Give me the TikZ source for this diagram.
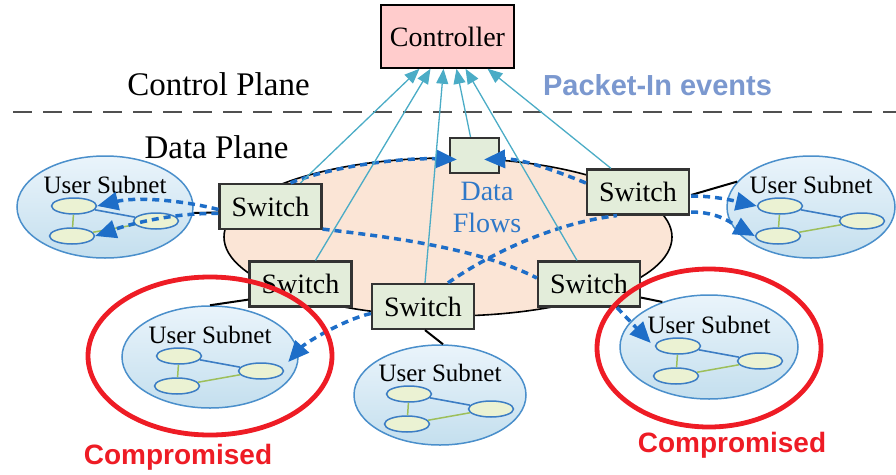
\documentclass[tikz,border=0pt]{standalone}
\usepackage{fontspec}
\setmainfont{Liberation Serif}
\setsansfont{Liberation Sans}
\usetikzlibrary{shapes.geometric,arrows.meta,calc}
\definecolor{ctrlpink}{HTML}{FFCCCC}
\definecolor{dpfill}{HTML}{FBE5D6}
\definecolor{swfill}{HTML}{E3EDDA}
\definecolor{swborder}{HTML}{333333}
\definecolor{flowblue}{HTML}{1E6EC8}
\definecolor{pktcyan}{HTML}{4BACC6}
\definecolor{pkttext}{HTML}{7B98CF}
\definecolor{dftext}{HTML}{2F78C8}
\definecolor{cred}{HTML}{EE1C25}
\definecolor{snborder}{HTML}{4A8FCB}
\definecolor{sntop}{HTML}{EAF4FB}
\definecolor{snbot}{HTML}{C4DFEE}
\definecolor{hostfill}{HTML}{EBF2D3}
\definecolor{hostblue}{HTML}{3C7DC4}
\definecolor{hostgreen}{HTML}{9DBF5A}
\definecolor{sepgray}{HTML}{505050}
\newcommand{\usersubnet}[5]{%
  \node[subnet, minimum width=#4, minimum height=#5] (#1) at (#2,#3) {};
  \node[font=\fontsize{25}{27}\selectfont, inner sep=0pt] (#1t) at ($(#1)+(0,-22)$) {User Subnet};
  \node[host] (#1a) at ($(#1)+(-31,-1)$) {};
  \node[host] (#1b) at ($(#1)+(-33,29)$) {};
  \node[host] (#1c) at ($(#1)+(51,14)$) {};
  \draw[hostblue, line width=1.6pt] (#1a) -- (#1c);
  \draw[hostgreen, line width=1.5pt] (#1a) -- (#1b);
  \draw[hostgreen, line width=1.5pt] (#1b) -- (#1c);
}
\begin{document}
\begin{tikzpicture}[x=1pt,y=-1pt,
  switchbox/.style={draw=swborder, fill=swfill, line width=2.2pt, minimum width=102pt, minimum height=45pt, inner sep=0pt, font=\fontsize{28}{30}\selectfont},
  subnet/.style={ellipse, draw=snborder, line width=1.5pt, top color=sntop, bottom color=snbot, inner sep=0pt},
  host/.style={ellipse, draw=hostblue, line width=1.5pt, fill=hostfill, minimum width=45pt, minimum height=16pt, inner sep=0pt},
  flow/.style={draw=flowblue, line width=3.5pt, dash pattern=on 7pt off 5pt},
  flowarrow/.style={flow, -{Triangle[length=21pt,width=18pt]}},
  pktin/.style={draw=pktcyan, line width=1.3pt, -{Triangle[length=15pt,width=12pt]}},
  link/.style={draw=black, line width=2pt},
  compromised/.style={ellipse, draw=cred, line width=4.8pt, inner sep=0pt},
  redlabel/.style={text=cred, font=\sffamily\bfseries\fontsize{28}{30}\selectfont, inner sep=0pt},
  planelabel/.style={font=\fontsize{33}{35}\selectfont, inner sep=0pt}
]
\useasboundingbox (0,0) rectangle (896,474);

% separator
\coordinate (L1) at (13,112);
\coordinate (L2) at (896,112);
\draw[sepgray, line width=2pt, dash pattern=on 19pt off 11pt] (L1) -- (L2);

% data plane
\node[ellipse, draw=black, fill=dpfill, line width=1.6pt, minimum width=448pt, minimum height=158pt, inner sep=0pt] (DP) at (448,237) {};

% user subnets
\usersubnet{U1}{105}{207}{176pt}{102pt}
\usersubnet{U2}{811}{207}{168pt}{102pt}
\usersubnet{U3}{210}{357}{176pt}{102pt}
\usersubnet{U4}{440}{395}{172pt}{100pt}
\usersubnet{U5}{709}{347}{178pt}{104pt}

% controller, switches
\node[draw=black, fill=ctrlpink, line width=1.5pt, minimum width=133pt, minimum height=63pt, inner sep=0pt, font=\fontsize{28}{30}\selectfont] (CT) at (447.5,36.5) {Controller};
\node[switchbox] (S1) at (270.5,206.5) {Switch};
\node[switchbox] (S2) at (300.5,284) {Switch};
\node[switchbox] (S3) at (423,306.5) {Switch};
\node[switchbox] (S4) at (589,284) {Switch};
\node[switchbox] (S5) at (638,192) {Switch};
\node[draw=swborder, fill=swfill, line width=2.2pt, minimum width=49pt, minimum height=35pt, inner sep=0pt] (SB) at (474.5,155.5) {};

% links switch - subnet
\draw[link] ([yshift=-6pt]S1.west) -- ([yshift=-6pt]U1.east);
\draw[link] ([yshift=8pt]S2.south west) -- (U3.north);
\draw[link] ($(S3.south)+(2,0)$) -- ($(U4.north)+(3,0)$);
\draw[link] ([yshift=10pt]S4.south east) -- (U5.136);
\draw[link] ($(S5.east)+(1,3)$) -- (U2.161);

% data flows
\draw[flowarrow] ($(S1.north)+(20,0)$) .. controls +(40,-16) and +(-58,-2) .. ($(SB.west)+(8,4)$);
\draw[flowarrow] ($(S5.west)+(0,-9)$) .. controls +(-32,-13) and +(37,-1) .. ($(SB.east)+(-16,4)$);
\draw[flow] ($(S1.south east)+(0,-1)$) .. controls +(68,8) and +(-59,-30) .. ($(S4.west)+(0,-6)$);
\draw[flow] ($(S3.north)+(25,0)$) .. controls +(37,-26) and +(-67,8) .. ($(S5.south)+(-21,0)$);
\draw[flowarrow] ($(S1.west)+(0,3)$) .. controls +(-39,-10) and +(38,-9) .. (U1a.east);
\draw[flowarrow] ($(S1.west)+(0,7)$) .. controls +(-44,-1) and +(35,-12) .. (U1b.east);
\draw[flowarrow] ($(S5.east)+(1,4)$) .. controls +(25,0) and +(-22,-5) .. (U2a.west);
\draw[flowarrow] ($(S5.east)+(1,20)$) .. controls +(28,0) and +(-22,-12) .. (U2b.west);
\draw[flowarrow] ($(S3.west)+(0,7)$) .. controls +(-27,6) and +(17,-19) .. ($(U3c.east)+(4,-9)$);
\draw[flowarrow] ($(S4.south)+(28,0)$) -- ($(U5a.west)+(-4,-3)$);

% packet-in events
\draw[pktin] ($(S1.north)+(30,0)$) -- ($(CT.south)+(-28,0)$);
\draw[pktin] ($(S2.north)+(15,0)$) -- ($(CT.south)+(-17,0)$);
\draw[pktin] ($(S3.north)+(2,0)$) -- ($(CT.south)+(-4,0)$);
\draw[pktin] ($(SB.north)+(-4,0)$) -- ($(CT.south)+(9,0)$);
\draw[pktin] ($(S4.north)+(-12,0)$) -- ($(CT.south)+(18,0)$);
\draw[pktin] ($(S5.north)+(-27,0)$) -- ($(CT.south)+(40,0)$);

% labels
\node[planelabel] (CPL) at (218.5,84) {Control Plane};
\node[planelabel] (DPL) at (216.5,147) {Data Plane};
\node[text=pkttext, font=\sffamily\bfseries\fontsize{29}{31}\selectfont, inner sep=0pt] (PKT) at (657.5,85) {Packet-In events};
\node[text=dftext, align=center, font=\fontsize{28}{32}\selectfont, inner sep=0pt] (DFL) at (487,207) {Data\\Flows};

% compromised
\node[compromised, minimum width=244pt, minimum height=158pt] (R1) at (210,356) {};
\node[compromised, minimum width=224pt, minimum height=158pt] (R2) at (709,348) {};
\node[redlabel] (C1) at (178,457) {Compromised};
\node[redlabel] (C2) at (732,445) {Compromised};
\end{tikzpicture}
\end{document}
